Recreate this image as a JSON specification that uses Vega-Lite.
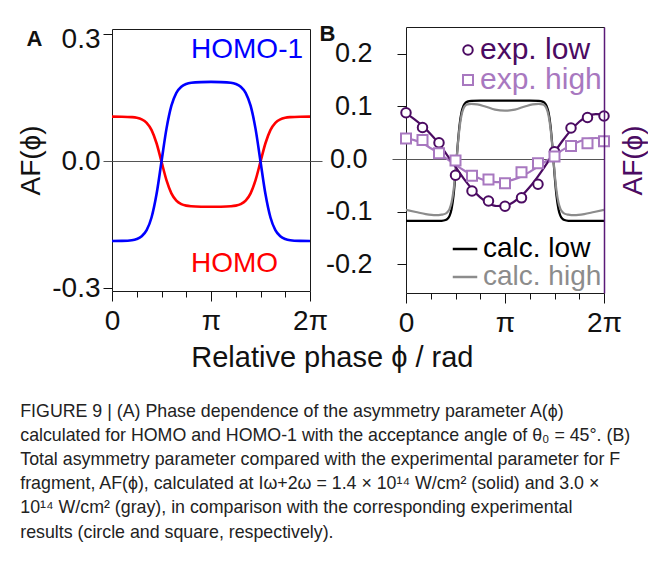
{
  "$schema": "https://vega.github.io/schema/vega-lite/v6.json",
  "padding": {"left": 17, "top": 22, "right": 0, "bottom": 0},
  "config": {
    "font": "Liberation Sans",
    "view": {"stroke": "#1a1a1a", "strokeWidth": 1},
    "axis": {"grid": false, "domain": false, "labelFont": "Liberation Sans", "titleFont": "Liberation Sans", "labelColor": "#111", "tickColor": "#111", "titleColor": "#111", "titleFontWeight": "normal", "labelOverlap": false, "labelFlush": false},
    "legend": {"title": null, "padding": 0, "offset": 2, "labelFont": "Liberation Sans", "labelFontSize": 28, "rowPadding": 0,
      "layout": {"direction": "vertical", "margin": -3, "top-right": {"direction": "vertical", "margin": -4}, "bottom-right": {"direction": "vertical", "margin": -1}}}
  },
  "datasets": {
    "curvesA": [
      {"phi": 0, "value": 0.105, "orbital": "HOMO"}, {"phi": 0.1, "value": 0.1048, "orbital": "HOMO"}, {"phi": 0.2, "value": 0.1038, "orbital": "HOMO"}, {"phi": 0.25, "value": 0.1023, "orbital": "HOMO"}, {"phi": 0.3, "value": 0.0986, "orbital": "HOMO"}, {"phi": 0.35, "value": 0.0904, "orbital": "HOMO"}, {"phi": 0.4, "value": 0.0732, "orbital": "HOMO"}, {"phi": 0.45, "value": 0.0421, "orbital": "HOMO"}, {"phi": 0.5, "value": -0.0015, "orbital": "HOMO"}, {"phi": 0.55, "value": -0.0451, "orbital": "HOMO"}, {"phi": 0.6, "value": -0.0762, "orbital": "HOMO"}, {"phi": 0.65, "value": -0.0934, "orbital": "HOMO"}, {"phi": 0.7, "value": -0.1016, "orbital": "HOMO"}, {"phi": 0.75, "value": -0.1053, "orbital": "HOMO"}, {"phi": 0.8, "value": -0.1068, "orbital": "HOMO"}, {"phi": 0.9, "value": -0.1078, "orbital": "HOMO"}, {"phi": 1.0, "value": -0.108, "orbital": "HOMO"}, {"phi": 1.1, "value": -0.1078, "orbital": "HOMO"}, {"phi": 1.2, "value": -0.1068, "orbital": "HOMO"}, {"phi": 1.25, "value": -0.1053, "orbital": "HOMO"}, {"phi": 1.3, "value": -0.1016, "orbital": "HOMO"}, {"phi": 1.35, "value": -0.0934, "orbital": "HOMO"}, {"phi": 1.4, "value": -0.0762, "orbital": "HOMO"}, {"phi": 1.45, "value": -0.0451, "orbital": "HOMO"}, {"phi": 1.5, "value": -0.0015, "orbital": "HOMO"}, {"phi": 1.55, "value": 0.0421, "orbital": "HOMO"}, {"phi": 1.6, "value": 0.0732, "orbital": "HOMO"}, {"phi": 1.65, "value": 0.0904, "orbital": "HOMO"}, {"phi": 1.7, "value": 0.0986, "orbital": "HOMO"}, {"phi": 1.75, "value": 0.1023, "orbital": "HOMO"}, {"phi": 1.8, "value": 0.1038, "orbital": "HOMO"}, {"phi": 1.9, "value": 0.1048, "orbital": "HOMO"}, {"phi": 2.0, "value": 0.105, "orbital": "HOMO"},
      {"phi": 0, "value": -0.189, "orbital": "HOMO-1"}, {"phi": 0.1, "value": -0.1886, "orbital": "HOMO-1"}, {"phi": 0.2, "value": -0.187, "orbital": "HOMO-1"}, {"phi": 0.25, "value": -0.1842, "orbital": "HOMO-1"}, {"phi": 0.3, "value": -0.1777, "orbital": "HOMO-1"}, {"phi": 0.35, "value": -0.1632, "orbital": "HOMO-1"}, {"phi": 0.4, "value": -0.1328, "orbital": "HOMO-1"}, {"phi": 0.45, "value": -0.078, "orbital": "HOMO-1"}, {"phi": 0.5, "value": -0.001, "orbital": "HOMO-1"}, {"phi": 0.55, "value": 0.076, "orbital": "HOMO-1"}, {"phi": 0.6, "value": 0.1308, "orbital": "HOMO-1"}, {"phi": 0.65, "value": 0.1612, "orbital": "HOMO-1"}, {"phi": 0.7, "value": 0.1757, "orbital": "HOMO-1"}, {"phi": 0.75, "value": 0.1822, "orbital": "HOMO-1"}, {"phi": 0.8, "value": 0.185, "orbital": "HOMO-1"}, {"phi": 0.9, "value": 0.1866, "orbital": "HOMO-1"}, {"phi": 1.0, "value": 0.187, "orbital": "HOMO-1"}, {"phi": 1.1, "value": 0.1866, "orbital": "HOMO-1"}, {"phi": 1.2, "value": 0.185, "orbital": "HOMO-1"}, {"phi": 1.25, "value": 0.1822, "orbital": "HOMO-1"}, {"phi": 1.3, "value": 0.1757, "orbital": "HOMO-1"}, {"phi": 1.35, "value": 0.1612, "orbital": "HOMO-1"}, {"phi": 1.4, "value": 0.1308, "orbital": "HOMO-1"}, {"phi": 1.45, "value": 0.076, "orbital": "HOMO-1"}, {"phi": 1.5, "value": -0.001, "orbital": "HOMO-1"}, {"phi": 1.55, "value": -0.078, "orbital": "HOMO-1"}, {"phi": 1.6, "value": -0.1328, "orbital": "HOMO-1"}, {"phi": 1.65, "value": -0.1632, "orbital": "HOMO-1"}, {"phi": 1.7, "value": -0.1777, "orbital": "HOMO-1"}, {"phi": 1.75, "value": -0.1842, "orbital": "HOMO-1"}, {"phi": 1.8, "value": -0.187, "orbital": "HOMO-1"}, {"phi": 1.9, "value": -0.1886, "orbital": "HOMO-1"}, {"phi": 2.0, "value": -0.189, "orbital": "HOMO-1"}
    ],
    "labelsA": [
      {"phi": 1.364, "value": 0.262, "orbital": "HOMO-1"},
      {"phi": 1.237, "value": -0.243, "orbital": "HOMO"}
    ],
    "tagA": [{"phi": -0.783, "value": 0.288, "panel": "A"}],
    "tagB": [{"phi": -0.793, "value": 0.238, "panel": "B"}],
    "calcB": [
      {"phi": 0, "value": -0.097, "series": "calc. high"}, {"phi": 0.1, "value": -0.101, "series": "calc. high"}, {"phi": 0.2, "value": -0.105, "series": "calc. high"}, {"phi": 0.3, "value": -0.107, "series": "calc. high"}, {"phi": 0.36, "value": -0.106, "series": "calc. high"}, {"phi": 0.4, "value": -0.104, "series": "calc. high"}, {"phi": 0.42, "value": -0.101, "series": "calc. high"}, {"phi": 0.44, "value": -0.095, "series": "calc. high"}, {"phi": 0.46, "value": -0.083, "series": "calc. high"}, {"phi": 0.48, "value": -0.06, "series": "calc. high"}, {"phi": 0.5, "value": -0.024, "series": "calc. high"}, {"phi": 0.52, "value": 0.02, "series": "calc. high"}, {"phi": 0.54, "value": 0.058, "series": "calc. high"}, {"phi": 0.56, "value": 0.083, "series": "calc. high"}, {"phi": 0.58, "value": 0.096, "series": "calc. high"}, {"phi": 0.6, "value": 0.102, "series": "calc. high"}, {"phi": 0.62, "value": 0.104, "series": "calc. high"}, {"phi": 0.66, "value": 0.105, "series": "calc. high"}, {"phi": 0.72, "value": 0.104, "series": "calc. high"}, {"phi": 0.8, "value": 0.1, "series": "calc. high"}, {"phi": 0.9, "value": 0.094, "series": "calc. high"}, {"phi": 1.0, "value": 0.092, "series": "calc. high"}, {"phi": 1.1, "value": 0.094, "series": "calc. high"}, {"phi": 1.2, "value": 0.1, "series": "calc. high"}, {"phi": 1.28, "value": 0.104, "series": "calc. high"}, {"phi": 1.34, "value": 0.105, "series": "calc. high"}, {"phi": 1.38, "value": 0.104, "series": "calc. high"}, {"phi": 1.4, "value": 0.102, "series": "calc. high"}, {"phi": 1.42, "value": 0.096, "series": "calc. high"}, {"phi": 1.44, "value": 0.083, "series": "calc. high"}, {"phi": 1.46, "value": 0.058, "series": "calc. high"}, {"phi": 1.48, "value": 0.02, "series": "calc. high"}, {"phi": 1.5, "value": -0.024, "series": "calc. high"}, {"phi": 1.52, "value": -0.06, "series": "calc. high"}, {"phi": 1.54, "value": -0.083, "series": "calc. high"}, {"phi": 1.56, "value": -0.095, "series": "calc. high"}, {"phi": 1.58, "value": -0.101, "series": "calc. high"}, {"phi": 1.6, "value": -0.104, "series": "calc. high"}, {"phi": 1.64, "value": -0.106, "series": "calc. high"}, {"phi": 1.7, "value": -0.107, "series": "calc. high"}, {"phi": 1.8, "value": -0.105, "series": "calc. high"}, {"phi": 1.9, "value": -0.101, "series": "calc. high"}, {"phi": 2.0, "value": -0.097, "series": "calc. high"},
      {"phi": 0, "value": -0.118, "series": "calc. low"}, {"phi": 0.1, "value": -0.118, "series": "calc. low"}, {"phi": 0.2, "value": -0.118, "series": "calc. low"}, {"phi": 0.3, "value": -0.1179, "series": "calc. low"}, {"phi": 0.36, "value": -0.1177, "series": "calc. low"}, {"phi": 0.4, "value": -0.1163, "series": "calc. low"}, {"phi": 0.42, "value": -0.1139, "series": "calc. low"}, {"phi": 0.44, "value": -0.1082, "series": "calc. low"}, {"phi": 0.46, "value": -0.0956, "series": "calc. low"}, {"phi": 0.48, "value": -0.0703, "series": "calc. low"}, {"phi": 0.5, "value": -0.0285, "series": "calc. low"}, {"phi": 0.52, "value": 0.0215, "series": "calc. low"}, {"phi": 0.54, "value": 0.0633, "series": "calc. low"}, {"phi": 0.56, "value": 0.0886, "series": "calc. low"}, {"phi": 0.58, "value": 0.1012, "series": "calc. low"}, {"phi": 0.6, "value": 0.1069, "series": "calc. low"}, {"phi": 0.62, "value": 0.1093, "series": "calc. low"}, {"phi": 0.66, "value": 0.1107, "series": "calc. low"}, {"phi": 0.75, "value": 0.111, "series": "calc. low"}, {"phi": 0.9, "value": 0.111, "series": "calc. low"}, {"phi": 1.0, "value": 0.111, "series": "calc. low"}, {"phi": 1.1, "value": 0.111, "series": "calc. low"}, {"phi": 1.25, "value": 0.111, "series": "calc. low"}, {"phi": 1.34, "value": 0.1107, "series": "calc. low"}, {"phi": 1.38, "value": 0.1093, "series": "calc. low"}, {"phi": 1.4, "value": 0.1069, "series": "calc. low"}, {"phi": 1.42, "value": 0.1012, "series": "calc. low"}, {"phi": 1.44, "value": 0.0886, "series": "calc. low"}, {"phi": 1.46, "value": 0.0633, "series": "calc. low"}, {"phi": 1.48, "value": 0.0215, "series": "calc. low"}, {"phi": 1.5, "value": -0.0285, "series": "calc. low"}, {"phi": 1.52, "value": -0.0703, "series": "calc. low"}, {"phi": 1.54, "value": -0.0956, "series": "calc. low"}, {"phi": 1.56, "value": -0.1082, "series": "calc. low"}, {"phi": 1.58, "value": -0.1139, "series": "calc. low"}, {"phi": 1.6, "value": -0.1163, "series": "calc. low"}, {"phi": 1.64, "value": -0.1177, "series": "calc. low"}, {"phi": 1.7, "value": -0.1179, "series": "calc. low"}, {"phi": 1.8, "value": -0.118, "series": "calc. low"}, {"phi": 1.9, "value": -0.118, "series": "calc. low"}, {"phi": 2.0, "value": -0.118, "series": "calc. low"}
    ],
    "expB": [
      {"phi": 0, "value": 0.088, "series": "exp. low"}, {"phi": 0.1667, "value": 0.06, "series": "exp. low"}, {"phi": 0.3333, "value": 0.031, "series": "exp. low"}, {"phi": 0.5, "value": -0.031, "series": "exp. low"}, {"phi": 0.6667, "value": -0.061, "series": "exp. low"}, {"phi": 0.8333, "value": -0.08, "series": "exp. low"}, {"phi": 1.0, "value": -0.09, "series": "exp. low"}, {"phi": 1.1667, "value": -0.074, "series": "exp. low"}, {"phi": 1.3333, "value": -0.048, "series": "exp. low"}, {"phi": 1.5, "value": 0.014, "series": "exp. low"}, {"phi": 1.6667, "value": 0.059, "series": "exp. low"}, {"phi": 1.8333, "value": 0.079, "series": "exp. low"}, {"phi": 2.0, "value": 0.082, "series": "exp. low"},
      {"phi": 0, "value": 0.039, "series": "exp. high"}, {"phi": 0.1667, "value": 0.036, "series": "exp. high"}, {"phi": 0.3333, "value": 0.011, "series": "exp. high"}, {"phi": 0.5, "value": -0.003, "series": "exp. high"}, {"phi": 0.6667, "value": -0.032, "series": "exp. high"}, {"phi": 0.8333, "value": -0.039, "series": "exp. high"}, {"phi": 1.0, "value": -0.046, "series": "exp. high"}, {"phi": 1.1667, "value": -0.025, "series": "exp. high"}, {"phi": 1.3333, "value": -0.008, "series": "exp. high"}, {"phi": 1.5, "value": 0.005, "series": "exp. high"}, {"phi": 1.6667, "value": 0.025, "series": "exp. high"}, {"phi": 1.8333, "value": 0.03, "series": "exp. high"}, {"phi": 2.0, "value": 0.034, "series": "exp. high"}
    ],
    "fitB": [
      {"phi": 0, "value": 0.087, "series": "exp. low"}, {"phi": 0.0833, "value": 0.076, "series": "exp. low"}, {"phi": 0.1667, "value": 0.063, "series": "exp. low"}, {"phi": 0.25, "value": 0.047, "series": "exp. low"}, {"phi": 0.3333, "value": 0.029, "series": "exp. low"}, {"phi": 0.4167, "value": 0.007, "series": "exp. low"}, {"phi": 0.5, "value": -0.015, "series": "exp. low"}, {"phi": 0.5833, "value": -0.0372, "series": "exp. low"}, {"phi": 0.6667, "value": -0.057, "series": "exp. low"}, {"phi": 0.75, "value": -0.073, "series": "exp. low"}, {"phi": 0.8333, "value": -0.0841, "series": "exp. low"}, {"phi": 0.9167, "value": -0.0895, "series": "exp. low"}, {"phi": 1.0, "value": -0.0889, "series": "exp. low"}, {"phi": 1.0833, "value": -0.0823, "series": "exp. low"}, {"phi": 1.1667, "value": -0.0703, "series": "exp. low"}, {"phi": 1.25, "value": -0.0533, "series": "exp. low"}, {"phi": 1.3333, "value": -0.0329, "series": "exp. low"}, {"phi": 1.4167, "value": -0.0103, "series": "exp. low"}, {"phi": 1.5, "value": 0.0129, "series": "exp. low"}, {"phi": 1.5833, "value": 0.0352, "series": "exp. low"}, {"phi": 1.6667, "value": 0.055, "series": "exp. low"}, {"phi": 1.75, "value": 0.071, "series": "exp. low"}, {"phi": 1.8333, "value": 0.0815, "series": "exp. low"}, {"phi": 1.9167, "value": 0.0855, "series": "exp. low"}, {"phi": 2.0, "value": 0.085, "series": "exp. low"},
      {"phi": 0, "value": 0.039, "series": "exp. high"}, {"phi": 0.0833, "value": 0.036, "series": "exp. high"}, {"phi": 0.1667, "value": 0.03, "series": "exp. high"}, {"phi": 0.25, "value": 0.0205, "series": "exp. high"}, {"phi": 0.3333, "value": 0.0106, "series": "exp. high"}, {"phi": 0.4167, "value": -0.0002, "series": "exp. high"}, {"phi": 0.5, "value": -0.0112, "series": "exp. high"}, {"phi": 0.5833, "value": -0.0215, "series": "exp. high"}, {"phi": 0.6667, "value": -0.0304, "series": "exp. high"}, {"phi": 0.75, "value": -0.0375, "series": "exp. high"}, {"phi": 0.8333, "value": -0.0421, "series": "exp. high"}, {"phi": 0.9167, "value": -0.044, "series": "exp. high"}, {"phi": 1.0, "value": -0.043, "series": "exp. high"}, {"phi": 1.0833, "value": -0.0392, "series": "exp. high"}, {"phi": 1.1667, "value": -0.0331, "series": "exp. high"}, {"phi": 1.25, "value": -0.0245, "series": "exp. high"}, {"phi": 1.3333, "value": -0.0146, "series": "exp. high"}, {"phi": 1.4167, "value": -0.0038, "series": "exp. high"}, {"phi": 1.5, "value": 0.0072, "series": "exp. high"}, {"phi": 1.5833, "value": 0.0175, "series": "exp. high"}, {"phi": 1.6667, "value": 0.0264, "series": "exp. high"}, {"phi": 1.75, "value": 0.0335, "series": "exp. high"}, {"phi": 1.8333, "value": 0.0381, "series": "exp. high"}, {"phi": 1.9167, "value": 0.04, "series": "exp. high"}, {"phi": 2.0, "value": 0.039, "series": "exp. high"}
    ]
  },
  "title": {
    "text": [
      "FIGURE 9 | (A) Phase dependence of the asymmetry parameter A(ϕ)",
      "calculated for HOMO and HOMO-1 with the acceptance angle of θ₀ = 45°. (B)",
      "Total asymmetry parameter compared with the experimental parameter for F",
      "fragment, AF(ϕ), calculated at Iω+2ω = 1.4 × 10¹⁴ W/cm² (solid) and 3.0 ×",
      "10¹⁴ W/cm² (gray), in comparison with the corresponding experimental",
      "results (circle and square, respectively)."
    ],
    "orient": "bottom", "anchor": "start", "frame": "bounds",
    "font": "Liberation Sans", "fontSize": 17.8, "fontWeight": "normal",
    "color": "#222", "lineHeight": 24.2, "offset": 30, "dx": 3
  },
  "vconcat": [
    {
      "title": {"text": "Relative phase ϕ / rad", "orient": "bottom", "anchor": "middle", "frame": "bounds", "font": "Liberation Sans", "fontSize": 29, "fontWeight": "normal", "color": "#111", "offset": 6},
      "bounds": "flush",
      "center": true,
      "spacing": 96,
      "resolve": {"scale": {"color": "independent"}, "legend": {"color": "independent"}},
      "hconcat": [
        {
          "width": 198, "height": 262,
          "layer": [
            {
              "encoding": {
                "x": {"field": "phi", "type": "quantitative", "scale": {"domain": [0, 2], "nice": false, "zero": false},
                  "axis": {"values": [0, 0.25, 0.5, 0.75, 1, 1.25, 1.5, 1.75, 2], "labelExpr": "datum.value === 0 ? '0' : datum.value === 1 ? 'π' : datum.value === 2 ? '2π' : ''", "tickSize": {"condition": {"test": "datum.value % 1 === 0", "value": 10}, "value": 6}, "labelFontSize": 28, "labelPadding": 6, "title": null}},
                "y": {"field": "value", "type": "quantitative", "scale": {"domain": [-0.307, 0.312], "nice": false, "zero": false},
                  "axis": {"values": [-0.3, 0, 0.3], "labelExpr": "datum.value < 0 ? '-' + format(-datum.value, '.1f') : format(datum.value, '.1f')", "labelFontSize": 28, "tickSize": 9, "labelPadding": 3, "labelOffset": {"condition": {"test": "datum.value > 0.2", "value": 5}, "value": 0}, "grid": true, "gridColor": "#555", "gridOpacity": {"condition": {"test": "datum.value === 0", "value": 1}, "value": 0}, "tickColor": {"condition": {"test": "datum.value === 0", "value": "#555"}, "value": "#111"}, "title": "AF(ϕ)", "titleFontSize": 28, "titlePadding": 6}}
              },
              "layer": [
                {"data": {"name": "curvesA"}, "mark": {"type": "line", "strokeWidth": 2.6, "interpolate": "monotone"},
                  "encoding": {"color": {"field": "orbital", "type": "nominal", "scale": {"domain": ["HOMO", "HOMO-1"], "range": ["#ff0000", "#0000ff"]}, "legend": null}}},
                {"data": {"name": "labelsA"}, "mark": {"type": "text", "fontSize": 28, "align": "center", "baseline": "middle"},
                  "encoding": {"text": {"field": "orbital"}, "color": {"field": "orbital", "type": "nominal", "legend": null}}},
                {"data": {"name": "tagA"}, "mark": {"type": "text", "fontSize": 22, "fontWeight": "bold", "color": "#111", "align": "center", "baseline": "middle"},
                  "encoding": {"text": {"field": "panel"}}}
              ]
            },
            {
              "data": {"values": [{"value": 0}]},
              "mark": {"type": "rule", "opacity": 0},
              "encoding": {"y": {"field": "value", "type": "quantitative", "scale": {"domain": [-0.307, 0.312], "nice": false, "zero": false},
                "axis": {"orient": "right", "values": [0], "labels": false, "domain": false, "tickSize": 12, "tickColor": "#555", "title": null, "grid": false}}}
            }
          ],
          "resolve": {"scale": {"y": "independent"}, "axis": {"y": "independent"}}
        },
        {
          "width": 198, "height": 266,
          "layer": [
            {
              "encoding": {
                "x": {"field": "phi", "type": "quantitative", "scale": {"domain": [0, 2], "nice": false, "zero": false},
                  "axis": {"values": [0, 0.25, 0.5, 0.75, 1, 1.25, 1.5, 1.75, 2], "labelExpr": "datum.value === 0 ? '0' : datum.value === 1 ? 'π' : datum.value === 2 ? '2π' : ''", "tickSize": {"condition": {"test": "datum.value % 1 === 0", "value": 10}, "value": 6}, "labelFontSize": 28, "labelPadding": 6, "title": null}},
                "y": {"field": "value", "type": "quantitative", "scale": {"domain": [-0.2552, 0.2514], "nice": false, "zero": false},
                  "axis": {"values": [-0.2, -0.1, 0, 0.1, 0.2], "labelExpr": "datum.value < 0 ? '-' + format(-datum.value, '.1f') : format(datum.value, '.1f')", "labelFontSize": 27, "tickSize": {"condition": {"test": "datum.value === 0", "value": 14}, "value": 9}, "labelPadding": 25, "grid": true, "gridColor": "#555", "gridOpacity": {"condition": {"test": "datum.value === 0", "value": 1}, "value": 0}, "tickColor": {"condition": {"test": "datum.value === 0", "value": "#555"}, "value": "#111"}, "title": null}}
              },
              "layer": [
                {"data": {"name": "calcB"}, "transform": [{"filter": "datum.series === 'calc. low'"}], "mark": {"type": "line", "strokeWidth": 2.2, "interpolate": "monotone"},
                  "encoding": {"color": {"field": "series", "type": "nominal", "scale": {"domain": ["calc. low"], "range": ["#000000"]},
                    "legend": {"orient": "bottom-right", "symbolType": "stroke", "symbolStrokeWidth": 2.5, "symbolSize": 600, "labelOffset": 4, "labelColor": "#000000"}}}},
                {"data": {"name": "calcB"}, "transform": [{"filter": "datum.series === 'calc. high'"}], "mark": {"type": "line", "strokeWidth": 2.2, "interpolate": "monotone"},
                  "encoding": {"color": {"field": "series", "type": "nominal", "scale": {"domain": ["calc. high"], "range": ["#8c8c8c"]},
                    "legend": {"orient": "bottom-right", "symbolType": "stroke", "symbolStrokeWidth": 2.5, "symbolSize": 600, "labelOffset": 4, "labelColor": "#8c8c8c"}}}},
                {"data": {"name": "fitB"}, "transform": [{"filter": "datum.series === 'exp. high'"}], "mark": {"type": "line", "strokeWidth": 2.2, "color": "#a878c0", "interpolate": "monotone"}},
                {"data": {"name": "fitB"}, "transform": [{"filter": "datum.series === 'exp. low'"}], "mark": {"type": "line", "strokeWidth": 2.2, "color": "#4b0b62", "interpolate": "monotone"}},
                {"data": {"name": "expB"}, "transform": [{"filter": "datum.series === 'exp. low'"}], "mark": {"type": "point", "shape": "circle", "fill": "white", "strokeWidth": 2, "size": 90, "opacity": 1},
                  "encoding": {"color": {"field": "series", "type": "nominal", "scale": {"domain": ["exp. low"], "range": ["#4b0b62"]},
                    "legend": {"orient": "top-right", "title": " ", "titleFontSize": 6, "titlePadding": 0, "symbolType": "circle", "symbolSize": 90, "symbolStrokeWidth": 2, "symbolFillColor": "white", "labelOffset": -3, "labelFontSize": 30, "labelColor": "#4b0b62"}}}},
                {"data": {"name": "expB"}, "transform": [{"filter": "datum.series === 'exp. high'"}], "mark": {"type": "point", "shape": "square", "fill": "white", "strokeWidth": 2, "size": 100, "opacity": 1},
                  "encoding": {"color": {"field": "series", "type": "nominal", "scale": {"domain": ["exp. high"], "range": ["#a878c0"]},
                    "legend": {"orient": "top-right", "symbolType": "square", "symbolSize": 100, "symbolStrokeWidth": 2, "symbolFillColor": "white", "labelOffset": -3, "labelFontSize": 30, "labelColor": "#a878c0"}}}},
                {"data": {"name": "tagB"}, "mark": {"type": "text", "fontSize": 22, "fontWeight": "bold", "color": "#111", "align": "center", "baseline": "middle"},
                  "encoding": {"text": {"field": "panel"}}}
              ],
              "resolve": {"scale": {"color": "independent"}, "legend": {"color": "independent"}}
            },
            {
              "data": {"values": [{"value": 0}]},
              "mark": {"type": "rule", "opacity": 0},
              "encoding": {"y": {"field": "value", "type": "quantitative", "scale": {"domain": [-0.2552, 0.2514], "nice": false, "zero": false},
                "axis": {"orient": "right", "values": [0], "labels": false, "ticks": false, "domain": true, "domainColor": "#5a1a78", "domainWidth": 1.5, "zindex": 1, "grid": false, "title": "AF(ϕ)", "titleColor": "#4b0b62", "titleFontSize": 28, "titleAngle": 270, "titlePadding": 43}}}
            }
          ],
          "resolve": {"scale": {"y": "independent"}, "axis": {"y": "independent"}}
        }
      ]
    }
  ]
}
